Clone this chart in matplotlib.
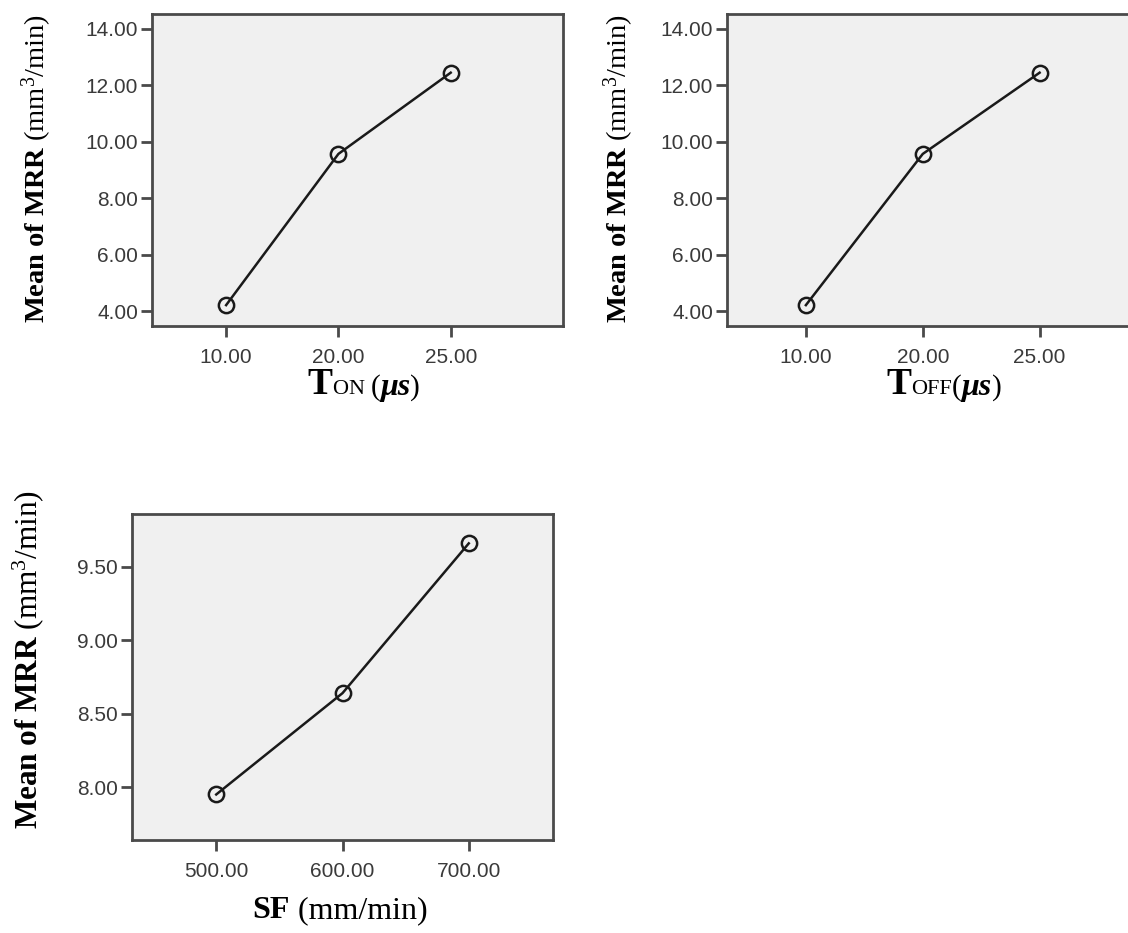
import matplotlib

matplotlib.use("Agg")
import matplotlib.pyplot as plt  # noqa: E402
from matplotlib.offsetbox import AnchoredOffsetbox, HPacker, TextArea  # noqa: E402

# data (SPSS style main-effects plots)
ton_levels = ["10.00", "20.00", "25.00"]
ton_mrr = [4.21, 9.57, 12.45]
toff_levels = ["10.00", "20.00", "25.00"]
toff_mrr = [4.21, 9.57, 12.45]
sf_levels = ["500.00", "600.00", "700.00"]
sf_mrr = [7.95, 8.64, 9.66]

ton_yticks = [4, 6, 8, 10, 12, 14]
sf_yticks = [8.0, 8.5, 9.0, 9.5]

plt.rcParams["mathtext.fontset"] = "custom"
plt.rcParams["mathtext.rm"] = "Liberation Serif"
plt.rcParams["mathtext.bf"] = "Liberation Serif:bold"
plt.rcParams["mathtext.it"] = "Liberation Serif:italic"

W, H = 1128, 933
fig = plt.figure(figsize=(W / 100, H / 100), dpi=100)

BG = "#f0f0f0"
EDGE = "#4a4a4a"
TICK_COL = "#3a3a3a"


def px_axes(x0, y0, x1, y1):
    return fig.add_axes([x0 / W, 1 - y1 / H, (x1 - x0) / W, (y1 - y0) / H])


def style(ax, levels, values, yticks, fmt, xlim, ylim):
    xs = list(range(1, len(levels) + 1))
    ax.set_facecolor(BG)
    ax.plot(xs, values, color="#1a1a1a", lw=1.8, marker="o", ms=11,
            mfc="none", mec="#1a1a1a", mew=1.8, zorder=3)
    ax.set_xticks(xs)
    ax.set_xticklabels(levels)
    ax.set_yticks(yticks)
    ax.set_yticklabels([fmt.format(v) for v in yticks])
    ax.set_xlim(*xlim)
    ax.set_ylim(*ylim)
    for s in ax.spines.values():
        s.set_color(EDGE)
        s.set_linewidth(2.0)
    ax.tick_params(direction="out", length=8, width=2, color=EDGE,
                   labelcolor=TICK_COL, labelsize=15, pad=2)
    for lab in ax.get_xticklabels() + ax.get_yticklabels():
        lab.set_family("Liberation Sans")


ax1 = px_axes(152, 14, 563, 326)
style(ax1, ton_levels, ton_mrr, ton_yticks, "{:.2f}", (0.34, 4.0), (3.47, 14.53))
ax1.tick_params(axis="x", pad=8)

ax2 = px_axes(727, 14, 1160, 326)
style(ax2, toff_levels, toff_mrr, ton_yticks, "{:.2f}", (0.325, 4.03), (3.47, 14.53))
ax2.tick_params(axis="x", pad=8)

ax3 = px_axes(132, 514, 553, 840)
style(ax3, sf_levels, sf_mrr, sf_yticks, "{:.2f}", (0.333, 3.667), (7.64, 9.86))
ax3.tick_params(axis="x", pad=8)

ylab = r"$\mathbf{Mean\ of\ MRR}\ (\mathrm{mm}^{3}\mathrm{/min})$"
for x, y, fs in [(37, 168, 20.5), (619, 168, 20.5), (28, 660, 22.5)]:
    fig.text(x / W, 1 - y / H, ylab, rotation=90, ha="center", va="center",
             fontsize=fs)


def piece_label(parts, cx, cy):
    boxes = [TextArea(t, textprops=dict(family="Liberation Serif", **kw))
             for t, kw in parts]
    pack = HPacker(children=boxes, align="baseline", pad=0, sep=0)
    anc = AnchoredOffsetbox(loc="center", child=pack, frameon=False,
                            bbox_to_anchor=(cx / W, 1 - cy / H),
                            bbox_transform=fig.transFigure, borderpad=0)
    fig.add_artist(anc)


piece_label([("T", dict(fontsize=27, weight="bold")),
             ("ON ", dict(fontsize=16)),
             ("(", dict(fontsize=21)),
             ("\u03bcs", dict(fontsize=23, weight="bold", style="italic")),
             (")", dict(fontsize=21))], 364, 385)
piece_label([("T", dict(fontsize=27, weight="bold")),
             ("OFF", dict(fontsize=16)),
             ("(", dict(fontsize=21)),
             ("\u03bcs", dict(fontsize=23, weight="bold", style="italic")),
             (")", dict(fontsize=21))], 944, 385)
piece_label([("SF", dict(fontsize=23, weight="bold")),
             (" (mm/min)", dict(fontsize=23))], 340, 911)

fig.savefig("out.png", dpi=100)
